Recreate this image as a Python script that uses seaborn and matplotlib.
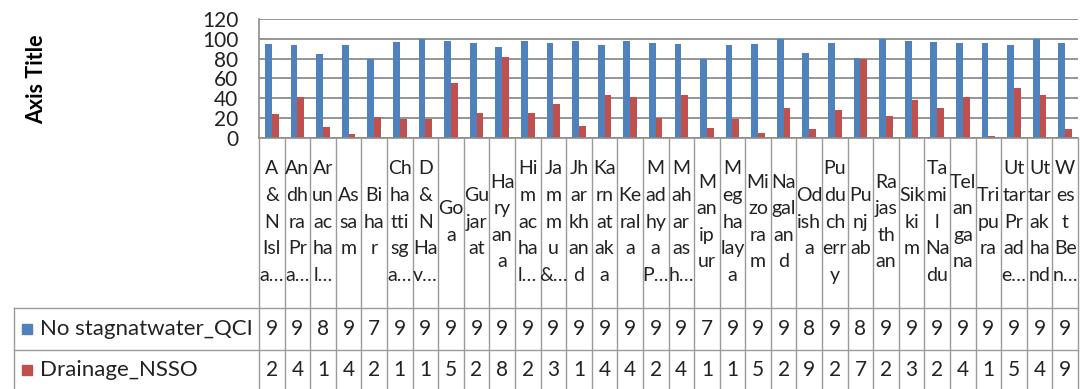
import pandas as pd
import seaborn as sns
import matplotlib.pyplot as plt

# wrapped category labels, as they appear in the chart's data table
states = [
    "A\n&\nN\nIsl\na…", "An\ndh\nra\nPr\na…", "Ar\nun\nac\nha\nl…", "As\nsa\nm",
    "Bi\nha\nr", "Ch\nha\ntti\nsg\na…", "D\n&\nN\nHa\nv…", "Go\na",
    "Gu\njar\nat", "Ha\nry\nan\na", "Hi\nm\nac\nha\nl…", "Ja\nm\nm\nu\n&…",
    "Jh\nar\nkh\nan\nd", "Ka\nrn\nat\nak\na", "Ke\nral\na", "M\nad\nhy\na\nP…",
    "M\nah\nar\nas\nh…", "M\nan\nip\nur", "M\neg\nha\nlay\na", "Mi\nzo\nra\nm",
    "Na\ngal\nan\nd", "Od\nish\na", "Pu\ndu\nch\nerr\ny", "Pu\nnj\nab",
    "Ra\njas\nth\nan", "Sik\nki\nm", "Ta\nmi\nl\nNa\ndu", "Tel\nan\nga\nna",
    "Tri\npu\nra", "Ut\ntar\nPr\nad\ne…", "Ut\ntar\nak\nha\nnd", "W\nes\nt\nBe\nn…",
]
series = ["No stagnatwater_QCI", "Drainage_NSSO"]
qci = [95, 93.6, 85, 93.6, 79.5, 97, 99.6, 98, 96, 92, 98, 96,
       98, 93.6, 98, 96, 95, 79.5, 93.6, 95, 99.8, 86, 96, 81,
       99.8, 98, 97, 96, 96, 93.6, 99.8, 96]
nsso = [24, 41, 11, 4, 20.5, 19, 19, 55, 25, 82, 24.5, 34,
        11.5, 43, 41.5, 20, 43, 10, 19, 5, 29.5, 9, 28, 79.5,
        22, 38, 29.5, 41.5, 1.5, 50, 43, 9]
colors = ["#4F81BD", "#C0504D"]
y_ticks = [0, 20, 40, 60, 80, 100, 120]

plt.rcParams["font.family"] = ["Lato", "DejaVu Sans"]
grid_c = "#8c8c8c"
line_c = "#9a9a9a"
text_c = "#222222"

df = pd.DataFrame({
    "state": list(range(len(states))) * 2,
    "series": [series[0]] * len(states) + [series[1]] * len(states),
    "value": qci + nsso,
})

W, H = 1083, 389
fig = plt.figure(figsize=(W / 100, H / 100), dpi=100)
px_left, px_right = 259, 1078
px_zero, px_top = 137.5, 19.3
ax = fig.add_axes([px_left / W, 1 - px_zero / H,
                   (px_right - px_left) / W, (px_zero - px_top) / H])

sns.barplot(data=df, x="state", y="value", hue="series", palette=colors,
            width=0.53, saturation=1, legend=False, ax=ax)
n = len(states)
ax.set_xlim(-0.5, n - 0.5)
ax.set_ylim(0, 120)
ax.set_yticks(y_ticks)
ax.set_yticklabels([str(t) for t in y_ticks], fontsize=15, color=text_c)
ax.tick_params(axis="y", length=0, pad=15)
ax.tick_params(axis="x", length=0, labelbottom=False)
ax.set_xlabel("")
ax.set_ylabel("")
ax.grid(axis="y", color=grid_c, lw=1.3)
ax.set_axisbelow(True)
for s in ["top", "right"]:
    ax.spines[s].set_visible(False)
for s in ["left", "bottom"]:
    ax.spines[s].set_color(grid_c)
    ax.spines[s].set_linewidth(1.2)

fig.text(37 / W, 1 - 79 / H, "Axis Title", rotation=90, ha="center",
         va="center", fontsize=15.5, fontweight="bold")

# data table below the plot, sharing category positions
tab = fig.add_axes([px_left / W, 0, (px_right - px_left) / W, (H - px_zero) / H])
tab.set_xlim(-0.5, n - 0.5)
tab.set_ylim(H, px_zero)
tab.axis("off")
colw = (px_right - px_left) / n


def xd(px):
    return -0.5 + (px - px_left) / colw


row_top, row_mid = 308.3, 350
for i in range(n + 1):
    tab.plot([i - 0.5, i - 0.5], [px_zero, H], color=line_c, lw=1, clip_on=False)
for y in [row_top, row_mid]:
    tab.plot([xd(14), n - 0.5], [y, y], color=line_c, lw=1, clip_on=False)
tab.plot([xd(14), xd(14)], [row_top, H], color=line_c, lw=1, clip_on=False)

for i, lab in enumerate(states):
    tab.text(i, 222, lab, ha="center", va="center", fontsize=14,
             linespacing=1.68, color=text_c)

rows = [(qci, 329), (nsso, 370)]
for k, (vals, yc) in enumerate(rows):
    for i, v in enumerate(vals):
        tab.text(i, yc, str(int(v))[0], ha="center", va="center",
                 fontsize=15, color=text_c)
    tab.plot([xd(27)], [yc], marker="s", ms=6.5, color=colors[k],
             clip_on=False)
    tab.text(xd(40), yc, series[k], ha="left", va="center", fontsize=16,
             color=text_c, clip_on=False)

fig.savefig("out.png", dpi=100)
